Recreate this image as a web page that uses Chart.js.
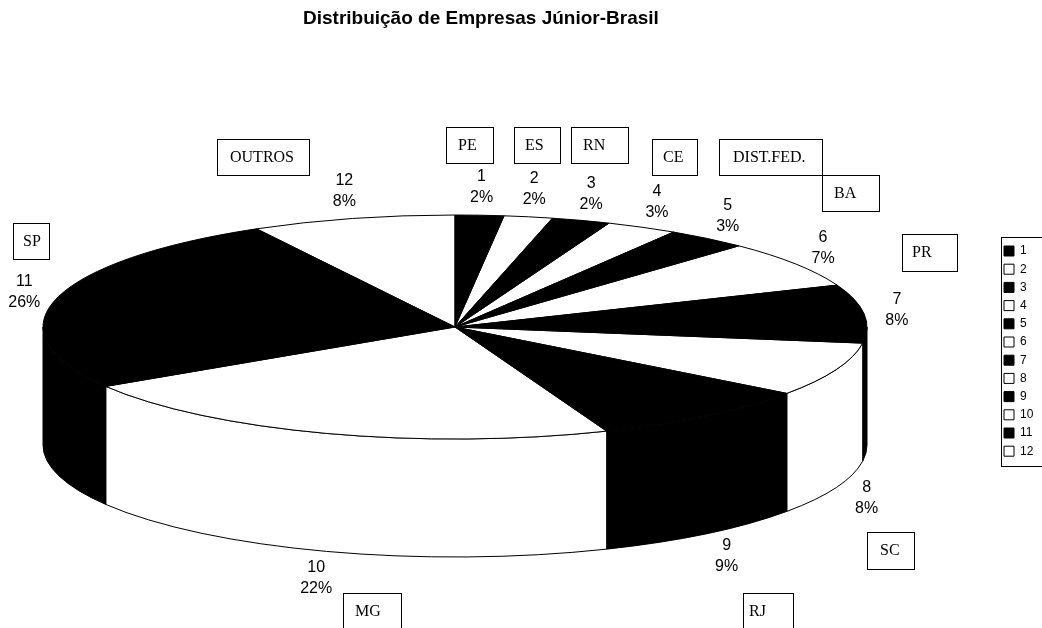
<!DOCTYPE html>
<html>
<head>
<meta charset="utf-8">
<script src="https://cdn.jsdelivr.net/npm/chart.js"></script>
<style>
  html, body { margin: 0; padding: 0; background: #ffffff; }
  #wrap { width: 1042px; height: 628px; position: relative; }
</style>
</head>
<body>
<div id="wrap"><canvas id="chart" width="1042" height="628"></canvas></div>
<script>
// ---- data ----
const categories = ['1', '2', '3', '4', '5', '6', '7', '8', '9', '10', '11', '12'];
const values = [1.9, 1.9, 2.3, 2.8, 3.2, 6.8, 8.4, 7.8, 8.9, 22.1, 25.9, 8.0];
const stateNames = ['PE', 'ES', 'RN', 'CE', 'DIST.FED.', 'BA', 'PR', 'SC', 'RJ', 'MG', 'SP', 'OUTROS'];
const titleText = 'Distribuição de Empresas Júnior-Brasil';

// ---- layout / style constants ----
const PROJ = { cx: 455, cy: 327, rx: 412, ry: 112, depth: 118, lrx: 445, lry: 140, lineGap: 10.5 };
// text boxes placed by hand in the original: [left, top, width, height, text left offset]
const stateBoxLayout = [
  [446, 127, 47, 36, 12], [514, 127, 46, 36, 11], [571, 127, 57, 36, 12], [652, 139, 45, 36, 11],
  [719, 139, 103, 36, 14], [822, 175, 57, 36, 12], [902, 234, 55, 37, 10], [867, 532, 47, 37, 13],
  [743, 593, 50, 36, 6], [343, 593, 58, 36, 12], [13, 223, 36, 36, 10], [217, 139, 92, 36, 13]
];
const SANS = '"Liberation Sans", Arial, sans-serif';
const SERIF = '"Liberation Serif", "Times New Roman", serif';

const pie3d = {
  id: 'pie3d',
  beforeDatasetsDraw(chart) {
    const ctx = chart.ctx;
    const arcs = chart.getDatasetMeta(0).data;
    // side walls of the front half
    ctx.save();
    ctx.lineWidth = 1;
    ctx.strokeStyle = '#000';
    ctx.lineJoin = 'round';
    arcs.forEach(arc => {
      const s = Math.max(arc.startAngle, 0);
      const e = Math.min(arc.endAngle, Math.PI);
      if (e <= s) return;
      ctx.beginPath();
      ctx.ellipse(PROJ.cx, PROJ.cy, PROJ.rx, PROJ.ry, 0, s, e, false);
      ctx.ellipse(PROJ.cx, PROJ.cy + PROJ.depth, PROJ.rx, PROJ.ry, 0, e, s, true);
      ctx.closePath();
      ctx.fillStyle = arc.options.backgroundColor;
      ctx.fill();
      ctx.stroke();
    });
    ctx.restore();
    // squash the library's own pie into the top face
    const a0 = arcs[0];
    ctx.save();
    ctx.translate(PROJ.cx, PROJ.cy);
    ctx.scale(PROJ.rx / a0.outerRadius, PROJ.ry / a0.outerRadius);
    ctx.translate(-a0.x, -a0.y);
  },
  afterDatasetsDraw(chart) {
    const ctx = chart.ctx;
    ctx.restore();
    const arcs = chart.getDatasetMeta(0).data;
    const data = chart.data.datasets[0].data;
    const total = data.reduce((a, b) => a + b, 0);
    ctx.save();
    ctx.lineWidth = 1;
    ctx.strokeStyle = '#000';
    ctx.lineJoin = 'round';
    arcs.forEach(arc => {
      ctx.beginPath();
      ctx.moveTo(PROJ.cx, PROJ.cy);
      ctx.lineTo(PROJ.cx + PROJ.rx * Math.cos(arc.startAngle), PROJ.cy + PROJ.ry * Math.sin(arc.startAngle));
      ctx.ellipse(PROJ.cx, PROJ.cy, PROJ.rx, PROJ.ry, 0, arc.startAngle, arc.endAngle, false);
      ctx.closePath();
      ctx.stroke();
    });
    // data labels: category + percentage
    ctx.font = '16px ' + SANS;
    ctx.fillStyle = '#000';
    ctx.textAlign = 'center';
    ctx.textBaseline = 'middle';
    arcs.forEach((arc, i) => {
      const m = (arc.startAngle + arc.endAngle) / 2;
      const x = PROJ.cx + PROJ.lrx * Math.cos(m);
      const y = PROJ.cy + PROJ.lry * Math.sin(m) + (Math.sin(m) > 0 ? PROJ.depth : 0);
      ctx.fillText(chart.data.labels[i], x, y - PROJ.lineGap);
      ctx.fillText(Math.round(data[i] / total * 100) + '%', x, y + PROJ.lineGap);
    });
    ctx.restore();
  },
  afterDraw(chart) {
    const ctx = chart.ctx;
    ctx.save();
    // state name boxes
    ctx.lineWidth = 1;
    ctx.strokeStyle = '#000';
    ctx.fillStyle = '#000';
    ctx.font = '16px ' + SERIF;
    ctx.textAlign = 'left';
    ctx.textBaseline = 'middle';
    stateNames.forEach((name, i) => {
      const [x, y, w, h, tx] = stateBoxLayout[i];
      ctx.fillStyle = '#fff';
      ctx.fillRect(x, y, w, h);
      ctx.strokeRect(x + 0.5, y + 0.5, w, h);
      ctx.fillStyle = '#000';
      ctx.fillText(name, x + tx, y + h / 2 + 0.5);
    });
    // legend frame
    const lg = chart.legend;
    if (lg && lg.legendHitBoxes && lg.legendHitBoxes.length) {
      const hb = lg.legendHitBoxes;
      const top = hb[0].top - 8;
      const bottom = hb[hb.length - 1].top + hb[hb.length - 1].height + 9;
      ctx.strokeRect(Math.round(lg.left) + 3.5, Math.round(top) + 0.5, 80, Math.round(bottom - top));
    }
    ctx.restore();
  }
};

const baseGen = (Chart.overrides.pie || Chart.overrides.doughnut).plugins.legend.labels.generateLabels;

new Chart(document.getElementById('chart'), {
  type: 'pie',
  data: {
    labels: categories,
    datasets: [{
      data: values,
      backgroundColor: c => (c.dataIndex % 2 === 0 ? '#000000' : '#ffffff'),
      borderWidth: 0,
      clip: 3000
    }]
  },
  options: {
    responsive: false,
    devicePixelRatio: 1,
    animation: false,
    events: [],
    layout: { padding: { left: 303, right: 0, top: 0, bottom: 0 } },
    plugins: {
      title: {
        display: true,
        text: titleText,
        fullSize: false,
        align: 'start',
        color: '#000',
        font: { family: SANS, size: 19, weight: 'bold' },
        padding: { top: 7.1, bottom: 44.3 }
      },
      legend: {
        display: true,
        position: 'right',
        fullSize: false,
        align: 'center',
        maxWidth: 44.2,
        labels: {
          color: '#000',
          font: { family: SANS, size: 12 },
          boxWidth: 10,
          boxHeight: 10,
          padding: 6.2,
          generateLabels: chart => baseGen(chart).map(it => Object.assign(it, { strokeStyle: '#000', lineWidth: 1 }))
        }
      },
      tooltip: { enabled: false }
    }
  },
  plugins: [pie3d]
});
</script>
</body>
</html>
